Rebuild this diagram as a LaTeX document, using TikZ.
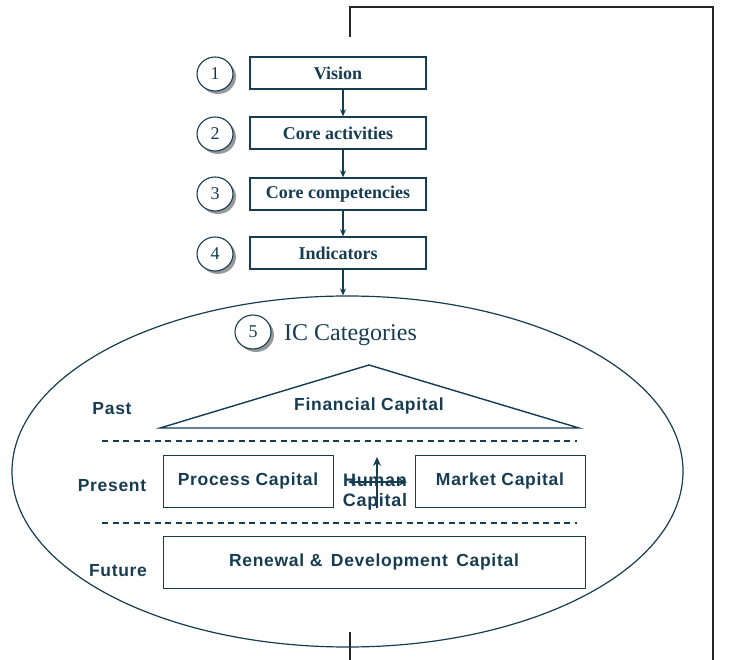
\documentclass[tikz,border=0pt]{standalone}
\usepackage{fontspec}
\setmainfont{Liberation Serif}
\newfontfamily\lab[LetterSpace=4]{Liberation Sans}
\usetikzlibrary{shapes.geometric,shadows,arrows.meta}
\definecolor{ink}{RGB}{22,60,82}
\tikzset{
  box/.style={draw=ink, line width=1.3pt, fill=white, text=ink, font=\fontsize{18}{20}\selectfont\bfseries, minimum width=176pt, minimum height=32pt, inner sep=0pt},
  num/.style={ellipse, draw=ink, line width=1.1pt, fill=white, text=ink, font=\fontsize{18}{20}\selectfont, minimum width=36pt, minimum height=34pt, inner sep=0pt, drop shadow={shadow xshift=3pt, shadow yshift=-3pt, fill=black!40, opacity=1}},
  arr/.style={draw=ink, line width=1.1pt, -{Stealth[length=7pt,width=6pt]}},
  capbox/.style={draw=ink, line width=1.3pt, inner sep=0pt},
  lbl/.style={text=ink, font=\fontsize{17.5}{19}\selectfont\lab\bfseries, inner sep=0pt},
  dashln/.style={draw=ink, line width=1.2pt, dash pattern=on 6pt off 4.5pt},
  frame/.style={draw=black!85, line width=1.4pt}
}
\begin{document}
\begin{tikzpicture}[x=1pt,y=-1pt]
\useasboundingbox (0,0) rectangle (731,660);
% black frame lines
\draw[frame] (350,37) -- (350,7) -- (713,7) -- (713,660);
\draw[frame] (350,632) -- (350,660);
% ellipse
\node[ellipse, draw=ink, line width=1.2pt, minimum width=671pt, minimum height=351pt, inner sep=0pt] (ell) at (347.5,471.5) {};
% top boxes
\node[box] (v) at (338,73) {Vision};
\node[box] (ca) at (338,133) {Core activities};
\node[box] (cc) at (338,194) {Core competencies};
\node[box] (ind) at (338,253) {Indicators};
\node[num] (n1) at (215,74) {1};
\node[num] (n2) at (215,134) {2};
\node[num] (n3) at (215,194) {3};
\node[num] (n4) at (215,254) {4};
\draw[arr] ([xshift=5pt]v.south) -- ([xshift=5pt]ca.north);
\draw[arr] ([xshift=5pt]ca.south) -- ([xshift=5pt]cc.north);
\draw[arr] ([xshift=5pt]cc.south) -- ([xshift=5pt]ind.north);
\draw[arr] ([xshift=5pt]ind.south) -- ([xshift=5pt]ind.south |- ell.north);
% IC categories
\node[num] (n5) at (253,332) {5};
\node[text=ink, font=\fontsize{24}{26}\selectfont, anchor=west, inner sep=0pt] (ic) at (284,335) {IC Categories};
% triangle
\coordinate (tl) at (160,428);
\coordinate (ta) at (369,365);
\coordinate (tr) at (579,428);
\draw[ink, line width=1.4pt, line join=miter] (tl) -- (ta) -- (tr) -- cycle;
\node[lbl] (fin) at (369,406) {Financial Capital};
\node[lbl] (past) at (112,409) {Past};
\node[lbl] (pres) at (112,486) {Present};
\node[lbl] (fut) at (118,571) {Future};
% dashed lines
\coordinate (d1a) at (102,441); \coordinate (d1b) at (577,441);
\coordinate (d2a) at (102,523); \coordinate (d2b) at (577,523);
\draw[dashln] (d1a) -- (d1b);
\draw[dashln] (d2a) -- (d2b);
% present boxes
\node[capbox, minimum width=170pt, minimum height=52pt, anchor=north west] (pc) at (163,455) {};
\node[lbl] (pct) at (248,481) {Process Capital};
\node[capbox, minimum width=170pt, minimum height=52pt, anchor=north west] (mc) at (415,455) {};
\node[lbl] (mct) at (500,481) {Market Capital};
\node[capbox, minimum width=422pt, minimum height=52pt, anchor=north west] (rd) at (163,536) {};
\node[lbl] (rdt) at (374,562) {Renewal \& \,Development \,Capital};
% human capital
\node[lbl, align=center, font=\fontsize{18}{20}\selectfont\lab\bfseries] (hc) at (375,492) {Human\\[0pt]Capital};
\coordinate (hl) at (348,482);
\coordinate (hr) at (407,482);
\coordinate (vb) at (377,508);
\coordinate (vt) at (377,457);
\draw[ink, line width=1.2pt, {Stealth[length=8pt,width=7pt]}-{Stealth[length=8pt,width=7pt]}] (hl) -- (hr);
\draw[ink, line width=1.2pt, -{Stealth[length=9pt,width=8pt]}] (vb) -- (vt);
\end{tikzpicture}
\end{document}
